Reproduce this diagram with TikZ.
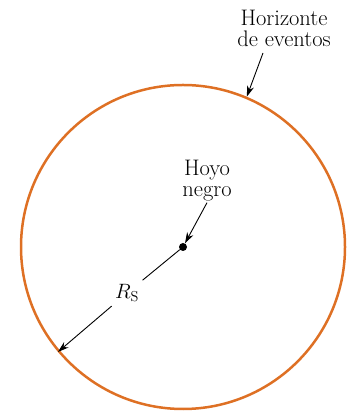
\documentclass[tikz,border=0pt]{standalone}
\usepackage{tikz}
\usetikzlibrary{arrows.meta}
\definecolor{horizonorange}{RGB}{222,112,36}
\tikzset{
    label text/.style={font=\fontsize{22.5}{21}\selectfont, align=center, inner sep=1pt},
    pointer/.style={-{Stealth[length=11pt,width=7pt]}, line width=0.9pt},
}
\begin{document}
\begin{tikzpicture}[x=1pt,y=1pt]
    \useasboundingbox (0,0) rectangle (353,414);
    \node[draw=horizonorange, line width=2.5pt, circle, minimum size=324pt, inner sep=0pt] (horizon) at (183,167) {};
    \node[circle, fill=black, minimum size=8pt, inner sep=0pt] (bh) at (183,167) {};

    \node[label text] (hz) at (284,386) {Horizonte\\de eventos};
    \node[label text] (hoyo) at (207,233) {Hoyo\\negro};
    \node[circle, minimum size=40pt, inner sep=0pt, font=\fontsize{22.5}{21}\selectfont] (rs) at (127,121) {$R_{\mathrm{S}}$};
    \coordinate (hzstart) at (263,361);

    \draw[pointer] (hzstart) -- (horizon.67);
    \draw[pointer] (hoyo.south) -- (bh);
    \draw[line width=0.9pt] (bh) -- (rs);
    \draw[pointer] (rs) -- (horizon.220);
\end{tikzpicture}
\end{document}
